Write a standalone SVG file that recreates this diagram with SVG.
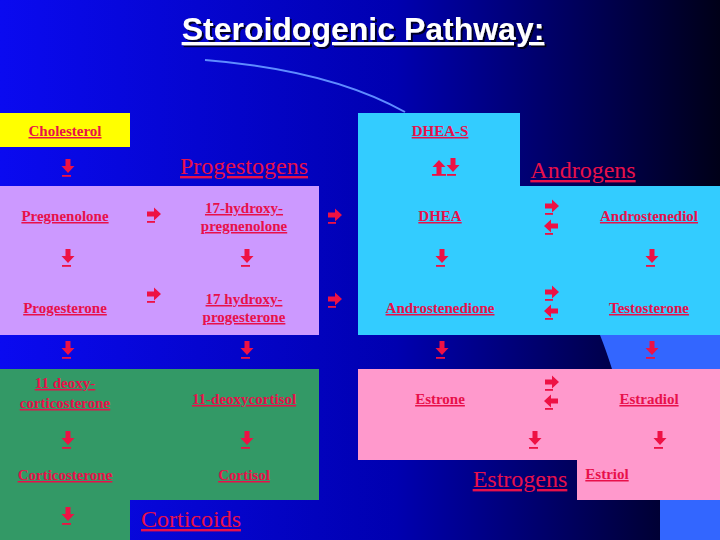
<svg xmlns="http://www.w3.org/2000/svg" width="720" height="540" viewBox="0 0 720 540">
<defs>
<linearGradient id="bg" x1="0" y1="0" x2="1" y2="0">
<stop offset="0" stop-color="#0a0af0"/><stop offset="0.55" stop-color="#0000b0"/><stop offset="1" stop-color="#000018"/>
</linearGradient>
<filter id="sh" x="-10%" y="-30%" width="120%" height="160%"><feDropShadow dx="2" dy="2" stdDeviation="0.5" flood-color="#000" flood-opacity="0.8"/></filter>
<g id="dn"><path d="M-2.5,-9 h5 v7 h4 l-6.5,7 l-6.5,-7 h4 z" fill="#ee1144"/><rect x="-6" y="7" width="9" height="1.8" fill="#ee1144"/></g>
<g id="rt"><path d="M-7,-2.5 h7 v-4 l7,6.5 l-7,6.5 v-4 h-7 z" fill="#ee1144"/><rect x="-7" y="7" width="8" height="1.8" fill="#ee1144"/></g>
<g id="lt"><path d="M7,-2.5 h-7 v-4 l-7,6.5 l7,6.5 v-4 h7 z" fill="#ee1144"/><rect x="-6" y="7" width="8" height="1.8" fill="#ee1144"/></g>
<g id="up"><path d="M-2.5,7 h5 v-7 h4 l-6.5,-7 l-6.5,7 h4 z" fill="#ee1144"/><rect x="-7" y="7" width="14" height="1.8" fill="#ee1144"/></g>
</defs>
<style>
.t{font-family:"Liberation Serif",serif;font-size:15px;font-weight:bold;fill:#e8104a;text-anchor:middle;text-decoration:underline}
.h{font-family:"Liberation Serif",serif;font-size:24px;fill:#e8104a;text-anchor:middle;text-decoration:underline}
</style>
<rect width="720" height="540" fill="url(#bg)"/>
<path d="M205,60 Q330,70 405,112" stroke="#5f8cff" stroke-width="2" fill="none"/>
<path d="M600,335 L720,335 L720,369 L612,369 Q606,350 600,335 Z" fill="#3366ff"/>
<rect x="660" y="500" width="60" height="40" fill="#3366ff"/>
<g id="title"><text x="363" y="40" font-family="Liberation Sans,sans-serif" font-weight="bold" font-size="32" fill="#fff" text-anchor="middle" text-decoration="underline" filter="url(#sh)">Steroidogenic Pathway:</text></g>
<g id="regions">
<rect x="0" y="113" width="130" height="34" fill="#ffff00"/>
<rect x="0" y="186" width="319" height="149" fill="#cc99ff"/>
<path d="M358,113 H520 V186 H720 V335 H358 Z" fill="#33ccff"/>
<rect x="0" y="369" width="319" height="131" fill="#339966"/>
<rect x="0" y="500" width="130" height="40" fill="#339966"/>
<path d="M358,369 H720 V500 H577 V460 H358 Z" fill="#ff99cc"/>
</g>
<g id="labels">
<g id="n-chol"><text class="t" x="65" y="136">Cholesterol</text></g>
<g id="n-prog-h"><text class="h" x="244" y="174">Progestogens</text></g>
<g id="n-dheas"><text class="t" x="440" y="136">DHEA-S</text></g>
<g id="n-andro-h"><text class="h" x="583" y="178">Androgens</text></g>
<g id="n-preg"><text class="t" x="65" y="221">Pregnenolone</text></g>
<g id="n-17hp"><text class="t" x="244" y="213">17-hydroxy-</text><text class="t" x="244" y="231">pregnenolone</text></g>
<g id="n-dhea"><text class="t" x="440" y="221">DHEA</text></g>
<g id="n-adiol"><text class="t" x="649" y="221">Androstenediol</text></g>
<g id="n-proges"><text class="t" x="65" y="313">Progesterone</text></g>
<g id="n-17hpr"><text class="t" x="244" y="304">17 hydroxy-</text><text class="t" x="244" y="322">progesterone</text></g>
<g id="n-adione"><text class="t" x="440" y="313">Androstenedione</text></g>
<g id="n-testo"><text class="t" x="649" y="313">Testosterone</text></g>
<g id="n-11dc"><text class="t" x="65" y="388">11 deoxy-</text><text class="t" x="65" y="408">corticosterone</text></g>
<g id="n-11dcort"><text class="t" x="244" y="404">11-deoxycortisol</text></g>
<g id="n-estrone"><text class="t" x="440" y="404">Estrone</text></g>
<g id="n-estradiol"><text class="t" x="649" y="404">Estradiol</text></g>
<g id="n-cortico"><text class="t" x="65" y="480">Corticosterone</text></g>
<g id="n-cortisol"><text class="t" x="244" y="480">Cortisol</text></g>
<g id="n-estro-h"><text class="h" x="520" y="487">Estrogens</text></g>
<g id="n-estriol"><text class="t" x="607" y="479">Estriol</text></g>
<g id="n-cort-h"><text class="h" x="191" y="527">Corticoids</text></g>
</g>
<g id="connectors">
<use href="#dn" x="68" y="168"/>
<use href="#up" x="439" y="167"/><use href="#dn" x="453" y="167"/>
<use href="#rt" x="154" y="214"/><use href="#rt" x="335" y="215"/>
<use href="#rt" x="552" y="206"/><use href="#lt" x="551" y="226"/>
<use href="#dn" x="68" y="258"/><use href="#dn" x="247" y="258"/><use href="#dn" x="442" y="258"/><use href="#dn" x="652" y="258"/>
<use href="#rt" x="154" y="294"/><use href="#rt" x="335" y="299"/>
<use href="#rt" x="552" y="292"/><use href="#lt" x="551" y="311"/>
<use href="#dn" x="68" y="350"/><use href="#dn" x="247" y="350"/><use href="#dn" x="442" y="350"/><use href="#dn" x="652" y="350"/>
<use href="#rt" x="552" y="382"/><use href="#lt" x="551" y="401"/>
<use href="#dn" x="68" y="440"/><use href="#dn" x="247" y="440"/><use href="#dn" x="535" y="440"/><use href="#dn" x="660" y="440"/>
<use href="#dn" x="68" y="516"/>
</g>
</svg>
